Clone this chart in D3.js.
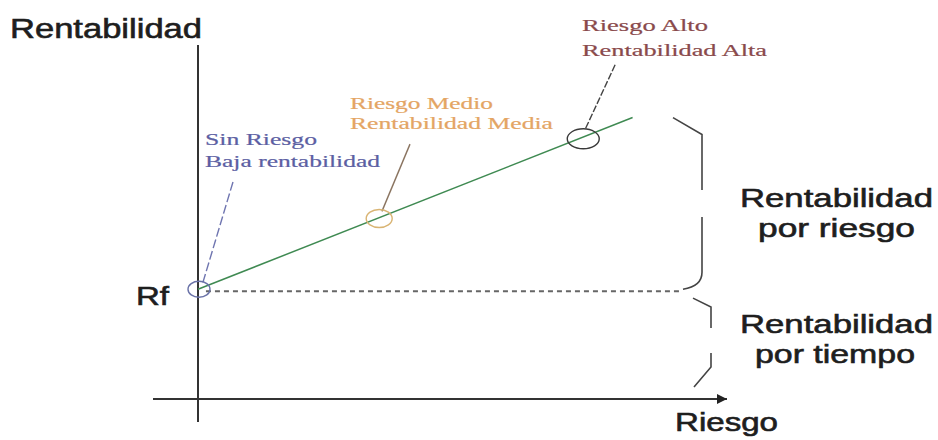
<!DOCTYPE html>
<html>
<head>
<meta charset="utf-8">
<script src="https://cdn.jsdelivr.net/npm/d3@7"></script>
<style>
  html, body { margin: 0; padding: 0; background: #fff; }
  svg { display: block; }
  .serif { font-family: "Liberation Serif", "DejaVu Serif", "Times New Roman", Times, serif; }
  .sans { font-family: "Liberation Sans", Arial, Helvetica, sans-serif; }
</style>
</head>
<body>
<svg id="chart" width="938" height="440"></svg>
<script>
// ---- data (risk / return in conceptual units 0..100) ----
const rfLevel = 31;
const pointLabels = ["Sin Riesgo\nBaja rentabilidad", "Riesgo Medio\nRentabilidad Media", "Riesgo Alto\nRentabilidad Alta"];
const pointRisk = [0, 34, 72.5];
const pointReturn = [31, 51, 73.5];
const lineRisk = [0, 82];
const lineReturn = [31, 79.5];
const leaderFromRisk = [6.6, 40, 78.7];
const leaderFromReturn = [61.3, 72, 94.4];
const leaderToRisk = [0.9, 34.7, 73];
const leaderToReturn = [32.8, 53, 76];
const braceLabels = ["Rentabilidad\npor riesgo", "Rentabilidad\npor tiempo"];
const braceTop = [79.5, 28.5];
const braceBottom = [31, 3.4];
const axisLabels = { y: "Rentabilidad", x: "Riesgo", rf: "Rf" };

// ---- layout ----
const svg = d3.select("#chart");
const x = d3.scaleLinear().domain([0, 100]).range([198, 728]);
const y = d3.scaleLinear().domain([0, 100]).range([399, 45]);

const textCol = "#1e1e1e";

function label(txt, px, py, size, width, cls, color, strokeW) {
  svg.append("text")
    .attr("class", cls)
    .attr("x", px).attr("y", py)
    .attr("font-size", size)
    .attr("fill", color)
    .attr("stroke", color)
    .attr("stroke-width", strokeW || 0)
    .attr("textLength", width)
    .attr("lengthAdjust", "spacingAndGlyphs")
    .text(txt);
}

// arrow marker
svg.append("defs").append("marker")
  .attr("id", "arrow").attr("viewBox", "0 0 10 10")
  .attr("refX", 10).attr("refY", 5)
  .attr("markerWidth", 14).attr("markerHeight", 10)
  .attr("markerUnits", "userSpaceOnUse")
  .attr("orient", "auto")
  .append("path").attr("d", "M0,0 L10,5 L0,10 Z").attr("fill", "#222");

// axes
svg.append("line")
  .attr("x1", x(0)).attr("x2", x(0))
  .attr("y1", y(100)).attr("y2", y(0) + 23)
  .attr("stroke", "#333").attr("stroke-width", 2);
svg.append("line")
  .attr("x1", x(0) - 45).attr("x2", x(100) - 1)
  .attr("y1", y(0)).attr("y2", y(0))
  .attr("stroke", "#333").attr("stroke-width", 2)
  .attr("marker-end", "url(#arrow)");

// Rf dashed level
svg.append("line")
  .attr("x1", x(1.5)).attr("x2", x(91.5))
  .attr("y1", y(rfLevel) + 2).attr("y2", y(rfLevel) + 2)
  .attr("stroke", "#666").attr("stroke-width", 1.8)
  .attr("stroke-dasharray", "5,4");

// green risk-return line
svg.append("path")
  .datum(lineRisk.map((r, i) => [r, lineReturn[i]]))
  .attr("d", d3.line().x(d => x(d[0])).y(d => y(d[1])))
  .attr("stroke", "#3f8a52").attr("stroke-width", 1.5).attr("fill", "none");

// leader lines
const leaderCols = ["#6f75b0", "#8a7460", "#444"];
leaderFromRisk.forEach((r, i) => {
  svg.append("line")
    .attr("x1", x(r)).attr("y1", y(leaderFromReturn[i]))
    .attr("x2", x(leaderToRisk[i])).attr("y2", y(leaderToReturn[i]))
    .attr("stroke", leaderCols[i]).attr("stroke-width", 1.4)
    .attr("stroke-dasharray", i === 0 ? "9,3" : (i === 2 ? "7,2" : null));
});

// circles
const circCols = ["#6a72a8", "#d9b473", "#3a3a3a"];
const rx = [11, 13, 16], ry = [8, 9, 10];
pointRisk.forEach((r, i) => {
  svg.append("ellipse")
    .attr("cx", x(r) + 1).attr("cy", y(pointReturn[i]))
    .attr("rx", rx[i]).attr("ry", ry[i])
    .attr("fill", "none").attr("stroke", circCols[i]).attr("stroke-width", 1.4);
});

// point labels
const labCols = ["#5c5fa3", "#e4a564", "#8a4a4c"];
const labPos = [[205, 145, 112, 175, 22], [350, 109, 143, 203, 20], [582, 31, 126, 185, 25]];
pointLabels.forEach((t, i) => {
  const lines = t.split("\n");
  const p = labPos[i];
  label(lines[0], p[0], p[1], 16, p[2], "serif", labCols[i], 0.2);
  label(lines[1], p[0], p[1] + p[4], 16, p[3], "serif", labCols[i], 0.2);
});

// braces
function brace(top, bottom, bx, hookIn, gapTop, gapBot, lowerStyle) {
  const y0 = y(top), y1 = y(bottom);
  const g = svg.append("g").attr("fill", "none").attr("stroke", "#444").attr("stroke-width", 1.6);
  if (!lowerStyle) {
    g.append("path").attr("d",
      `M${bx - hookIn},${y0} L${bx},${y0 + 17} L${bx},${gapTop}`);
    g.append("path").attr("d",
      `M${bx},${gapBot} L${bx},${y1 - 17} Q${bx},${y1 - 3} ${bx - 19},${y1}`);
  } else {
    g.append("path").attr("d",
      `M${bx - hookIn},${y0} L${bx},${y0 + 9} L${bx},${gapTop}`);
    g.append("path").attr("d",
      `M${bx},${gapBot} L${bx},${y1 - 20} L${bx - 17},${y1}`);
  }
}
brace(braceTop[0], braceBottom[0], 702, 29, 190, 217, false);
brace(braceTop[1], braceBottom[1], 711, 18, 328, 353, true);

// brace labels
const braceLab = [[740, 207, 193, 758, 237, 157], [740, 333, 193, 755, 363, 160]];
braceLabels.forEach((t, i) => {
  const lines = t.split("\n"), p = braceLab[i];
  label(lines[0], p[0], p[1], 26, p[2], "sans", textCol, 0.6);
  label(lines[1], p[3], p[4], 26, p[5], "sans", textCol, 0.6);
});

// axis labels
label(axisLabels.y, 10, 38, 27, 192, "sans", textCol, 0.6);
label(axisLabels.x, 675, 431, 25, 103, "sans", textCol, 0.6);
label(axisLabels.rf, 136, 305, 26, 33, "sans", textCol, 0.6);
</script>
</body>
</html>
